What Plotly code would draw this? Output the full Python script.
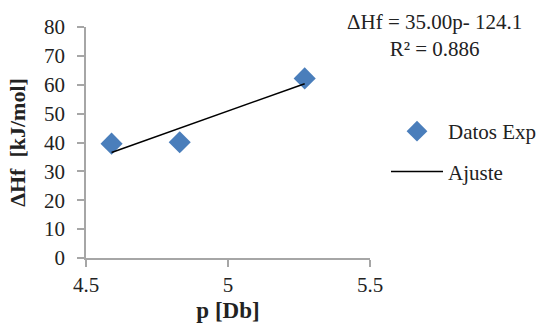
import plotly.graph_objects as go

p_vals = [4.59, 4.83, 5.27]
dh_vals = [39.6, 40.1, 62.2]
slope = 35.00
intercept = -124.1
r2 = 0.886

x_ticks = [4.5, 5, 5.5]
y_ticks = [0, 10, 20, 30, 40, 50, 60, 70, 80]

fit_x = [min(p_vals), max(p_vals)]
fit_y = [slope * x + intercept for x in fit_x]

font_fam = "Liberation Serif"

W, H = 548, 324
L, R, T, B = 86, 370, 27, 258

fig = go.Figure()
fig.add_trace(go.Scatter(
    x=p_vals, y=dh_vals, mode="markers", name="Datos Exp",
    legendgroup="a",
    marker=dict(symbol="diamond", size=17, color="#4a7ebb"),
))
fig.add_trace(go.Scatter(
    x=fit_x, y=fit_y, mode="lines", name="Ajuste",
    legendgroup="b",
    line=dict(color="black", width=1.5),
))

fig.add_annotation(
    x=(434 - L) / (R - L), y=(B - 35) / (B - T), xref="paper", yref="paper",
    xanchor="center", yanchor="middle", showarrow=False,
    text=f"ΔHf = {slope:.2f}p- {abs(intercept)}<br>R² = {r2}",
    font=dict(family=font_fam, size=21, color="#222"),
)

fig.update_layout(
    width=W, height=H,
    margin=dict(l=L, r=W - R, t=T, b=H - B),
    paper_bgcolor="white", plot_bgcolor="white",
    font=dict(family=font_fam, size=21, color="#222"),
    showlegend=True,
    legend=dict(
        xref="container", yref="container",
        x=386 / W, y=(H - 111) / H,
        xanchor="left", yanchor="top",
        traceorder="grouped", tracegroupgap=10, itemwidth=52,
        font=dict(family=font_fam, size=21, color="#222"),
        bgcolor="rgba(0,0,0,0)",
    ),
    xaxis=dict(
        range=[4.5, 5.5], tickvals=x_ticks, ticktext=[str(v) for v in x_ticks],
        showgrid=False, zeroline=False, showline=True, linecolor="#a6a6a6", linewidth=1.5,
        ticks="outside", ticklen=7, tickcolor="#a6a6a6", tickwidth=1.5,
        automargin=False,
        title=dict(text="<b>p [Db]</b>", font=dict(family=font_fam, size=23), standoff=6),
        tickfont=dict(size=21),
    ),
    yaxis=dict(
        range=[0, 80], tickvals=y_ticks,
        showgrid=False, zeroline=False, showline=True, linecolor="#a6a6a6", linewidth=1.5,
        ticks="outside", ticklen=7, tickcolor="#a6a6a6", tickwidth=1.5,
        ticklabelstandoff=8, automargin=False,
        title=dict(text="<b>ΔHf  [kJ/mol]</b>", font=dict(family=font_fam, size=22), standoff=12),
        tickfont=dict(size=21),
    ),
)

fig.write_html("out.html")
